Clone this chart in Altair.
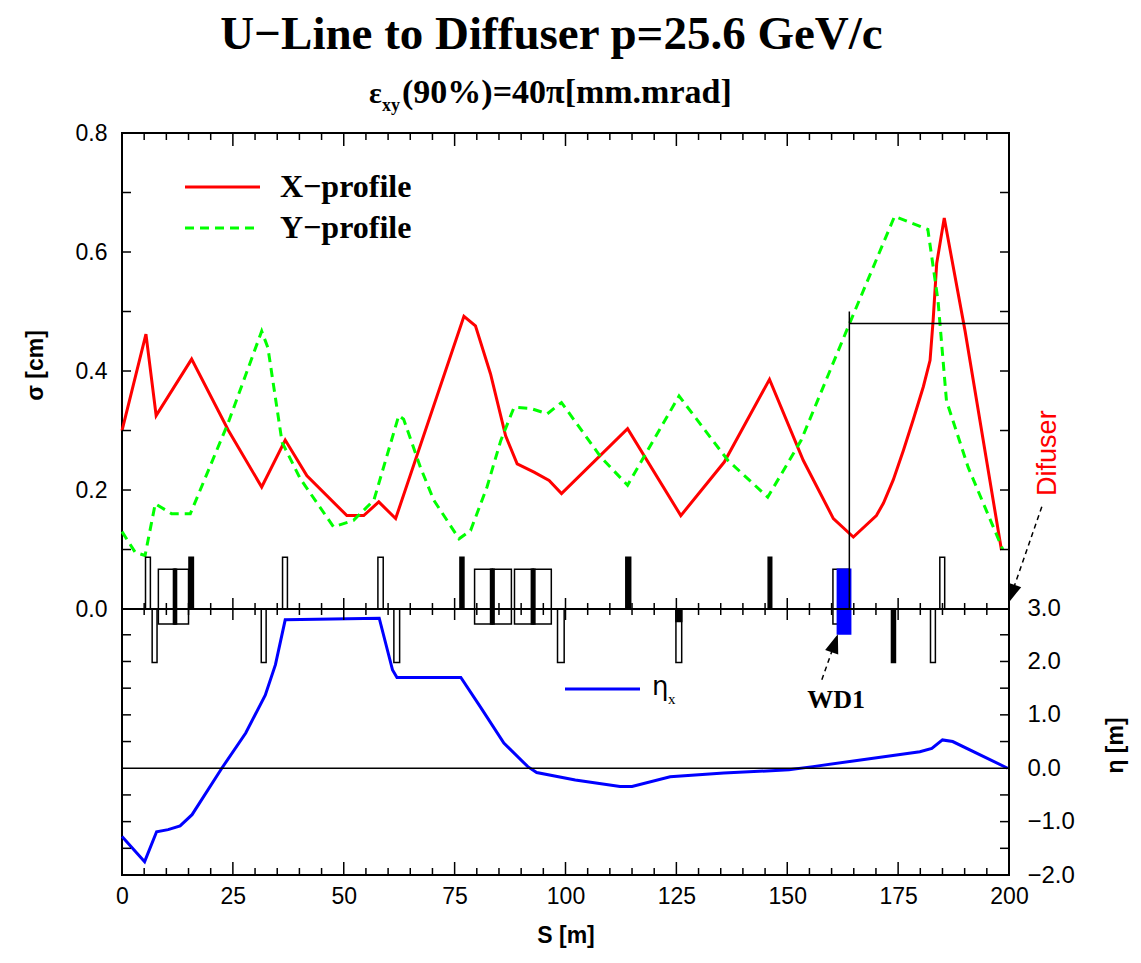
import altair as alt
import pandas as pd

# ---------------- data ----------------
TITLE = "U\u2212Line to Diffuser p=25.6 GeV/c"

# X-profile (red, solid): S [m], sigma [cm]
x_s = [0.0, 5.4, 7.7, 15.7, 24.0, 31.5, 36.8, 41.7, 50.7, 54.5, 57.9, 61.7, 77.1, 79.7,
       83.1, 86.5, 89.1, 92.9, 96.3, 99.1, 114.0, 126.0, 135.8, 146.0, 153.6, 160.4,
       164.9, 170.1, 171.7, 173.9, 176.2, 178.4, 180.7, 182.2, 182.9, 183.7, 185.4,
       190.1, 198.3]
x_sigma = [0.30, 0.462, 0.325, 0.42, 0.30, 0.205, 0.284, 0.224, 0.157, 0.157, 0.18, 0.152,
           0.492, 0.476, 0.395, 0.291, 0.244, 0.23, 0.216, 0.194, 0.303, 0.157, 0.247,
           0.386, 0.25, 0.152, 0.121, 0.157, 0.178, 0.217, 0.267, 0.318, 0.374, 0.418,
           0.486, 0.581, 0.657, 0.467, 0.099]

# Y-profile (green, dashed)
y_s = [0.0, 3.0, 5.2, 7.5, 11.2, 15.4, 24.0, 31.5, 32.9, 36.1, 40.2, 47.7, 52.2, 56.8,
       62.4, 63.5, 67.3, 70.3, 76.0, 78.6, 82.3, 85.4, 88.4, 92.2, 95.9, 99.1, 108.0,
       114.0, 125.6, 136.6, 145.6, 153.1, 164.0, 174.2, 181.7, 184.0, 185.9, 190.8, 198.6]
y_sigma = [0.13, 0.095, 0.09, 0.177, 0.16, 0.16, 0.314, 0.467, 0.439, 0.28, 0.219, 0.138,
           0.149, 0.183, 0.325, 0.319, 0.238, 0.183, 0.118, 0.132, 0.205, 0.283, 0.339,
           0.337, 0.328, 0.347, 0.255, 0.208, 0.358, 0.25, 0.188, 0.283, 0.479, 0.66,
           0.638, 0.518, 0.35, 0.238, 0.10]

# horizontal dispersion eta_x [m]
eta_s = [0.0, 5.1, 7.8, 10.4, 13.1, 15.8, 22.5, 27.9, 32.3, 34.6, 36.8, 58.0, 61.0, 62.0,
         76.4, 80.8, 86.1, 91.5, 93.5, 102.2, 112.3, 115.0, 123.6, 135.7, 150.4, 155.8,
         179.9, 182.6, 185.0, 187.3, 199.7]
eta_v = [-1.28, -1.75, -1.19, -1.15, -1.08, -0.87, 0.0, 0.66, 1.37, 1.94, 2.78, 2.81, 1.84,
         1.70, 1.70, 1.15, 0.47, 0.03, -0.08, -0.22, -0.34, -0.34, -0.16, -0.09, -0.03,
         0.03, 0.31, 0.37, 0.53, 0.50, 0.0]

# beam-line elements (start, end, kind)
elem_s0 = [5.3, 6.8, 8.2, 11.95, 11.6, 15.1, 31.4, 36.2, 57.7, 61.3, 76.2, 79.5, 83.5, 83.1,
           88.5, 92.7, 92.3, 98.2, 113.6, 124.9, 124.9, 145.7, 160.3, 161.3, 173.5, 182.3,
           184.4]
elem_s1 = [6.4, 7.9, 11.95, 15.0, 12.3, 16.1, 32.5, 37.3, 58.9, 62.6, 77.1, 83.5, 87.8, 83.9,
           92.7, 96.8, 93.1, 99.7, 114.7, 126.2, 126.2, 146.5, 164.0, 164.3, 174.4, 183.4,
           185.5]
elem_kind = ["QF", "QD", "B", "B", "BK", "KF", "QD", "QF", "QF", "QD", "KF", "B", "B", "BK",
             "B", "B", "BK", "QD", "KF", "QD", "KS", "KF", "B", "WD", "KD", "QD", "QF"]

# acceptance box at the diffuser
acc_s0, acc_s1 = 164.0, 200.0
acc_sigma = 0.48
acc_top = 0.50

# annotations
dif_label = {"s": 208.8, "v": 0.262}
dif_arrow = {"s": 207.4, "v": 0.172, "s2": 200.1, "v2": 0.015}
wd1_label = {"s": 161.0, "v": -0.153}
wd1_arrow = {"s": 157.8, "v": -0.119, "s2": 161.2, "v2": -0.047}

s_ticks = list(range(5, 200, 5))
sigma_minor = [0.1, 0.2, 0.3, 0.4, 0.5, 0.6, 0.7]
eta_minor = [-1.5, -1.0, -0.5, 0.5, 1.0, 1.5, 2.0, 2.5]
sigma_labels = [0.0, 0.2, 0.4, 0.6, 0.8]
eta_labels = [-2.0, -1.0, 0.0, 1.0, 2.0, 3.0]
s_labels = [0, 25, 50, 75, 100, 125, 150, 175, 200]

# ---------------- styles / geometry ----------------
W, H = 887, 742
SIG_DOM = [-0.447, 0.8]
ETA_DOM = [-2.0, 11.9]
PX_SIG = H / (SIG_DOM[1] - SIG_DOM[0])
PX_ETA = H / (ETA_DOM[1] - ETA_DOM[0])
PX_S = W / 200.0
SANS = "Liberation Sans"
SERIF = "Liberation Serif"

KIND = {
    "QF": (0.0, 0.087, "white"),
    "QD": (-0.09, 0.0, "white"),
    "KF": (0.0, 0.087, "black"),
    "KD": (-0.09, 0.0, "black"),
    "KS": (-0.021, 0.0, "black"),
    "B": (-0.025, 0.0667, "white"),
    "BK": (-0.025, 0.0667, "black"),
    "WD": (-0.042, 0.0667, "#0000ff"),
}


def xsc():
    return alt.Scale(domain=[0, 200], nice=False, zero=False)


def ssc():
    return alt.Scale(domain=SIG_DOM, nice=False, zero=False)


def esc():
    return alt.Scale(domain=ETA_DOM, nice=False, zero=False)


def xq(f):
    return alt.X(f"{f}:Q", scale=xsc(), axis=None)


def ys(f):
    return alt.Y(f"{f}:Q", scale=ssc(), axis=None)


def ye(f):
    return alt.Y(f"{f}:Q", scale=esc(), axis=None)


one = pd.DataFrame({"a": [0]})

# ---------------- eta (lower) panel line, carries the S and eta axes ----------------
df_eta = pd.DataFrame({"s": eta_s, "v": eta_v})
blue = alt.Chart(df_eta).mark_line(color="#0000ff", strokeWidth=3).encode(
    x=alt.X("s:Q", scale=xsc(), axis=alt.Axis(
        orient="bottom", values=s_labels, ticks=False, domain=False, grid=False,
        labelFont=SANS, labelFontSize=23, labelColor="black", labelPadding=10,
        labelFlush=False, title="S [m]", titleFont=SANS, titleFontSize=23,
        titleFontWeight="bold", titleColor="black", titlePadding=16)),
    y=alt.Y("v:Q", scale=esc(), axis=alt.Axis(
        orient="right", values=eta_labels, format=".1f", ticks=False,
        domain=False, grid=False, labelFont=SANS, labelFontSize=24, labelColor="black",
        labelPadding=18, title="\u03b7 [m]", titleFont=SANS, titleFontSize=23,
        titleFontWeight="bold", titleColor="black", titleX=106, titleY=612,
        titleAngle=270, titleBaseline="middle", titleAlign="center")),
)

# ---------------- sigma (upper) panel ----------------
df_x = pd.DataFrame({"s": x_s, "v": x_sigma})
df_y = pd.DataFrame({"s": y_s, "v": y_sigma})

red = alt.Chart(df_x).mark_line(color="#ff0000", strokeWidth=3).encode(
    x=xq("s"),
    y=alt.Y("v:Q", scale=ssc(), axis=alt.Axis(
        orient="left", values=sigma_labels, format=".1f", ticks=False,
        domain=False, grid=False, labelFont=SANS, labelFontSize=23, labelColor="black",
        labelPadding=15, title="\u03c3 [cm]", titleFont=SANS, titleFontSize=23,
        titleFontWeight="bold", titleColor="black", titleX=-87, titleY=232,
        titleAngle=270, titleBaseline="middle", titleAlign="center")),
)
green = alt.Chart(df_y).mark_line(color="#00ff00", strokeWidth=3, strokeDash=[9, 6]).encode(
    x=xq("s"), y=ys("v"))

df_el = pd.DataFrame({
    "s0": elem_s0, "s1": elem_s1,
    "lo": [KIND[k][0] for k in elem_kind],
    "hi": [KIND[k][1] for k in elem_kind],
    "fill": [KIND[k][2] for k in elem_kind],
    "stroke": ["#0000ff" if k == "WD" else "black" for k in elem_kind],
})
lattice = alt.Chart(df_el).mark_rect(strokeWidth=1.5).encode(
    x=xq("s0"), x2="s1", y=ys("lo"), y2="hi",
    fill=alt.Fill("fill:N", scale=None), stroke=alt.Stroke("stroke:N", scale=None))

midline = alt.Chart(pd.DataFrame({"v": [0.0]})).mark_rule(color="black", strokeWidth=2).encode(
    y=ys("v"))

df_mid = pd.DataFrame({"s": s_ticks})
df_mid["L"] = [11 if s % 25 == 0 else 6 for s in s_ticks]
df_mid["lo"] = -df_mid["L"] / PX_SIG
df_mid["hi"] = df_mid["L"] / PX_SIG
midticks = alt.Chart(df_mid).mark_rule(color="black", strokeWidth=1.5).encode(
    x=xq("s"), y=ys("lo"), y2="hi")

df_top = pd.DataFrame({"s": s_ticks})
df_top["a"] = 0.8
df_top["b"] = [0.8 - (13 if s % 25 == 0 else 7) / PX_SIG for s in s_ticks]
topticks = alt.Chart(df_top).mark_rule(color="black", strokeWidth=1.5).encode(
    x=xq("s"), y=ys("a"), y2="b")

df_sl = pd.DataFrame({"v": sigma_minor * 2,
                      "a": [0.0] * 7 + [200 - 9 / PX_S] * 7,
                      "b": [9 / PX_S] * 7 + [200.0] * 7})
sideticks_sig = alt.Chart(df_sl).mark_rule(color="black", strokeWidth=1.5).encode(
    x=xq("a"), x2="b", y=ys("v"))

df_acc_v = pd.DataFrame({"s": [acc_s0], "a": [0.0], "b": [acc_top]})
acc_v = alt.Chart(df_acc_v).mark_rule(color="black", strokeWidth=1.5).encode(
    x=xq("s"), y=ys("a"), y2="b")
df_acc_h = pd.DataFrame({"a": [acc_s0], "b": [acc_s1], "v": [acc_sigma]})
acc_h = alt.Chart(df_acc_h).mark_rule(color="black", strokeWidth=1.5).encode(
    x=xq("a"), x2="b", y=ys("v"))

dif_text = alt.Chart(pd.DataFrame([dif_label])).mark_text(
    text="Difuser", angle=270, color="#ff0000", font=SANS, fontSize=27,
    align="center", baseline="middle").encode(x=xq("s"), y=ys("v"))
wd1_text = alt.Chart(pd.DataFrame([wd1_label])).mark_text(
    text="WD1", color="black", font=SERIF, fontWeight="bold", fontSize=26,
    align="center", baseline="middle").encode(x=xq("s"), y=ys("v"))

df_arrows = pd.DataFrame([dif_arrow, wd1_arrow])
df_arrows["ang"] = [199, 19]
arrow_lines = alt.Chart(df_arrows).mark_rule(color="black", strokeWidth=1.5,
                                             strokeDash=[5, 4]).encode(
    x=xq("s"), x2="s2", y=ys("v"), y2="v2")
arrow_heads = alt.Chart(df_arrows).mark_point(
    shape="M0,0L-0.4,1.1L0.4,1.1Z", filled=True, fill="black", stroke="black",
    opacity=1, size=750).encode(
    x=xq("s2"), y=ys("v2"), angle=alt.Angle("ang:Q", scale=None))

# manual legend (upper panel)
leg_red = alt.Chart(one).mark_rule(color="#ff0000", strokeWidth=3).encode(
    x=alt.value(63), x2=alt.value(138), y=alt.value(54))
leg_green = alt.Chart(one).mark_rule(color="#00ff00", strokeWidth=3, strokeDash=[9, 6]).encode(
    x=alt.value(63), x2=alt.value(138), y=alt.value(95))
leg_xt = alt.Chart(one).mark_text(text="X\u2212profile", align="left", baseline="middle",
                                  font=SERIF, fontWeight="bold", fontSize=32).encode(
    x=alt.value(158), y=alt.value(54))
leg_yt = alt.Chart(one).mark_text(text="Y\u2212profile", align="left", baseline="middle",
                                  font=SERIF, fontWeight="bold", fontSize=32).encode(
    x=alt.value(158), y=alt.value(95))

# subtitle  eps_xy(90%)=40pi[mm.mrad]
sub_eps = alt.Chart(one).mark_text(text="\u03b5", align="left", baseline="alphabetic",
                                   font=SERIF, fontWeight="bold", fontSize=30).encode(
    x=alt.value(247), y=alt.value(-30))
sub_xy = alt.Chart(one).mark_text(text="xy", align="left", baseline="alphabetic",
                                  font=SERIF, fontWeight="bold", fontSize=18).encode(
    x=alt.value(260), y=alt.value(-22))
sub_rest = alt.Chart(one).mark_text(text="(90%)=40\u03c0[mm.mrad]", align="left",
                                    baseline="alphabetic", font=SERIF, fontWeight="bold",
                                    fontSize=34).encode(
    x=alt.value(280), y=alt.value(-30))

# ---------------- eta (lower) panel decorations ----------------
zero = alt.Chart(pd.DataFrame({"v": [0.0]})).mark_rule(color="black", strokeWidth=1.5).encode(
    y=ye("v"))

df_bot = pd.DataFrame({"s": s_ticks})
df_bot["a"] = -2.0
df_bot["b"] = [-2.0 + (13 if s % 25 == 0 else 7) / PX_ETA for s in s_ticks]
botticks = alt.Chart(df_bot).mark_rule(color="black", strokeWidth=1.5).encode(
    x=xq("s"), y=ye("a"), y2="b")

n_e = len(eta_minor)
df_el2 = pd.DataFrame({"v": eta_minor * 2,
                       "a": [0.0] * n_e + [200 - 9 / PX_S] * n_e,
                       "b": [9 / PX_S] * n_e + [200.0] * n_e})
sideticks_eta = alt.Chart(df_el2).mark_rule(color="black", strokeWidth=1.5).encode(
    x=xq("a"), x2="b", y=ye("v"))

leg_blue = alt.Chart(one).mark_rule(color="#0000ff", strokeWidth=3).encode(
    x=alt.value(443), x2=alt.value(518), y=alt.value(556))
leg_eta = alt.Chart(one).mark_text(text="\u03b7", align="left", baseline="middle",
                                   font="DejaVu Sans", fontSize=26).encode(
    x=alt.value(530), y=alt.value(554))
leg_eta_x = alt.Chart(one).mark_text(text="x", align="left", baseline="middle",
                                     font=SERIF, fontSize=15).encode(
    x=alt.value(546), y=alt.value(566))

layers = [blue, red, green, lattice, midline, midticks, topticks, sideticks_sig,
          acc_v, acc_h, dif_text, wd1_text, arrow_lines, arrow_heads,
          leg_red, leg_green, leg_xt, leg_yt, sub_eps, sub_xy, sub_rest,
          zero, botticks, sideticks_eta, leg_blue, leg_eta, leg_eta_x]

chart = alt.layer(*layers).resolve_scale(y="independent").resolve_axis(
    x="independent", y="independent").properties(
    width=W, height=H,
    title=alt.Title(TITLE, font=SERIF, fontSize=47, fontWeight="bold", color="black",
                    anchor="middle", offset=17, dx=-14),
    autosize=alt.AutoSizeParams(type="none"),
    padding={"left": 114, "top": 125, "right": 122, "bottom": 76},
).configure_view(stroke="black", strokeWidth=2)

chart.save("out.html", embed_options={"renderer": "svg", "actions": False})
